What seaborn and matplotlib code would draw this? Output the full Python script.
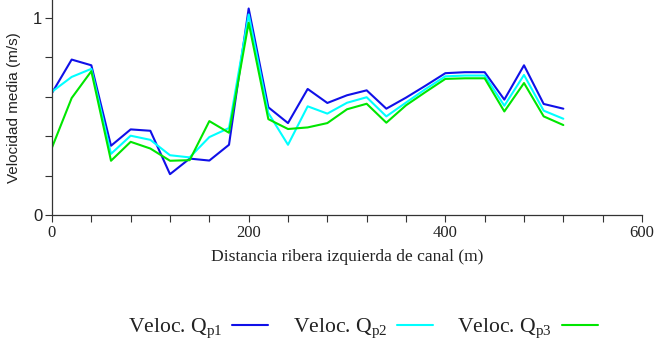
import matplotlib
matplotlib.use("Agg")
import matplotlib.pyplot as plt
import seaborn as sns
import pandas as pd
from matplotlib.lines import Line2D

distance = [0, 20, 40, 60, 80, 100, 120, 140, 160, 180, 200, 220, 240, 260, 280,
            300, 320, 340, 360, 380, 400, 420, 440, 460, 480, 500, 520]
q_p1 = [0.619, 0.788, 0.759, 0.351, 0.434, 0.427, 0.207, 0.286, 0.276, 0.356, 1.047,
        0.546, 0.466, 0.639, 0.568, 0.607, 0.632, 0.539, 0.595, 0.656, 0.719, 0.724,
        0.724, 0.585, 0.759, 0.563, 0.539]
q_p2 = [0.625, 0.700, 0.741, 0.310, 0.402, 0.381, 0.303, 0.292, 0.395, 0.441, 1.017,
        0.517, 0.356, 0.551, 0.514, 0.569, 0.597, 0.500, 0.570, 0.639, 0.703, 0.707,
        0.707, 0.554, 0.710, 0.529, 0.488]
q_p3 = [0.342, 0.593, 0.729, 0.275, 0.371, 0.337, 0.275, 0.278, 0.476, 0.417, 0.975,
        0.486, 0.436, 0.444, 0.466, 0.536, 0.564, 0.468, 0.556, 0.624, 0.690, 0.693,
        0.693, 0.525, 0.669, 0.500, 0.456]
series_labels = ["Veloc. Q$_{\\mathrm{p1}}$", "Veloc. Q$_{\\mathrm{p2}}$", "Veloc. Q$_{\\mathrm{p3}}$"]
colors = ["#1010e8", "#00ffff", "#00e600"]
x_ticks = list(range(0, 601, 40))
x_tick_labels = [str(t) if t % 200 == 0 else "" for t in x_ticks]
y_ticks = [0, 0.2, 0.4, 0.6, 0.8, 1.0]
y_tick_labels = ["0", "", "", "", "", "1"]

sns.set_style("white")
plt.rcParams["mathtext.fontset"] = "custom"
plt.rcParams["mathtext.rm"] = "Liberation Serif"
plt.rcParams["mathtext.it"] = "Liberation Serif:italic"

rows = []
for lab, vals in zip(series_labels, [q_p1, q_p2, q_p3]):
    for d, v in zip(distance, vals):
        rows.append({"dist": d, "vel": v, "serie": lab})
df = pd.DataFrame(rows)

fig = plt.figure(figsize=(6.57, 3.46), dpi=100)
ax = fig.add_axes([52 / 657, 1 - 215 / 346, 590 / 657, 215 / 346])
sns.lineplot(data=df, x="dist", y="vel", hue="serie", palette=colors,
             hue_order=series_labels, linewidth=1.5, ax=ax, legend=False)

ax.set_xlim(0, 600)
ax.set_ylim(0, 1.09)
ax.set_xticks(x_ticks)
ax.set_xticklabels(x_tick_labels, family="Liberation Serif", fontsize=12)
ax.set_yticks(y_ticks)
ax.set_yticklabels(y_tick_labels, family="Liberation Sans", fontsize=12)
ax.tick_params(axis="both", direction="out", length=5, width=0.8, color="#333333",
               bottom=True, left=True, pad=2, labelcolor="#222222")
for s in ["top", "right"]:
    ax.spines[s].set_visible(False)
for s in ["left", "bottom"]:
    ax.spines[s].set_color("#333333")
    ax.spines[s].set_linewidth(0.9)

ax.set_xlabel("Distancia ribera izquierda de canal (m)", family="Liberation Serif",
              fontsize=12.6, color="#222222", labelpad=6)
ax.set_ylabel("Velocidad media (m/s)", family="Liberation Sans", fontsize=11,
              color="#222222", labelpad=9)

handles = [Line2D([0], [0], color=c, lw=1.5) for c in colors]
leg = fig.legend(handles, series_labels, loc="center", bbox_to_anchor=(0.552, 0.05),
                 ncol=3, frameon=False, markerfirst=False, handlelength=1.65,
                 handletextpad=0.45, columnspacing=1.15,
                 prop={"family": "Liberation Serif", "size": 15.6})
for t in leg.get_texts():
    t.set_color("#222222")

fig.savefig("out.png", dpi=100)
